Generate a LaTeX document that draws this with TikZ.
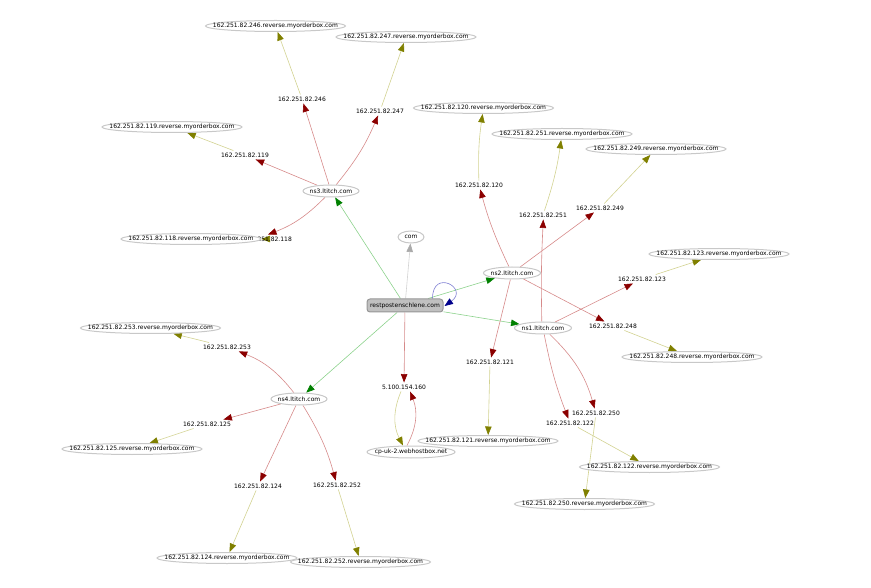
\documentclass[tikz,border=0pt]{standalone}
\usepackage{fontspec}
\setmainfont{DejaVu Sans}
\usetikzlibrary{arrows.meta,shapes.geometric,backgrounds}
\definecolor{redline}{RGB}{214,138,138}
\definecolor{redtip}{RGB}{139,0,0}
\definecolor{oliveline}{RGB}{210,210,145}
\definecolor{olivetip}{RGB}{128,128,0}
\definecolor{greenline}{RGB}{140,210,140}
\definecolor{greentip}{RGB}{0,128,0}
\definecolor{grayline}{RGB}{210,210,210}
\definecolor{graytip}{RGB}{170,170,170}
\definecolor{blueline}{RGB}{125,125,210}
\definecolor{bluetip}{RGB}{0,0,139}
\definecolor{ellborder}{RGB}{200,200,200}
\definecolor{restfill}{RGB}{192,192,192}
\definecolor{restborder}{RGB}{150,150,150}
\newcommand{\zw}[1]{\makebox[0pt]{#1}}
\tikzset{
  every node/.style={font=\fontsize{6}{7}\selectfont},
  host/.style={ellipse, draw=ellborder, line width=1pt, fill=white, inner sep=0pt, minimum height=12pt},
  rev/.style={host, minimum width=140pt, minimum height=11pt},
  restbox/.style={rectangle, rounded corners=3pt, draw=restborder, fill=restfill, line width=1pt, inner sep=0pt, minimum width=76pt, minimum height=13pt},
  ip/.style={inner sep=2pt},
  redE/.style={draw=redline, line width=0.6pt, -{Triangle[length=8.5pt,width=6.5pt,color=redtip]}},
  oliveE/.style={draw=oliveline, line width=0.6pt, -{Triangle[length=8.5pt,width=6.5pt,color=olivetip]}},
  greenE/.style={draw=greenline, line width=0.6pt, -{Triangle[length=8.5pt,width=6.5pt,color=greentip]}},
  grayE/.style={draw=grayline, line width=0.6pt, -{Triangle[length=8.5pt,width=6.5pt,color=graytip]}},
  blueE/.style={draw=blueline, line width=0.6pt, -{Triangle[length=8.5pt,width=6.5pt,color=bluetip]}}
}
\begin{document}
\begin{tikzpicture}[x=1pt,y=1pt]
\useasboundingbox (0,0) rectangle (871,-588);
% IP labels
\node[ip] (i246) at (302,-99) {162.251.82.246};
\node[ip] (i247) at (380,-111) {162.251.82.247};
\node[ip] (i119) at (245,-155) {162.251.82.119};
\node[ip] (i118) at (268,-239) {162.251.82.118};
\node[ip] (i120) at (479,-185) {162.251.82.120};
\node[ip] (i251) at (543,-215) {162.251.82.251};
\node[ip] (i249) at (600,-208) {162.251.82.249};
\node[ip] (i123) at (642,-279) {162.251.82.123};
\node[ip] (i248) at (613,-326) {162.251.82.248};
\node[ip] (i121) at (490,-362) {162.251.82.121};
\node[ip] (i250) at (596,-413) {162.251.82.250};
\node[ip] (i122) at (570,-423) {162.251.82.122};
\node[ip] (i253) at (227,-347) {162.251.82.253};
\node[ip] (i125) at (207,-424) {162.251.82.125};
\node[ip] (i124) at (258,-486) {162.251.82.124};
\node[ip] (i252) at (337,-485) {162.251.82.252};
\node[ip] (i5) at (404,-387) {5.100.154.160};
% hosts
\node[restbox] (rest) at (405,-305.5) {restpostenschlene.com};
\node[host, minimum width=26pt] (com) at (411,-237) {\zw{com}};
\node[host, minimum width=56pt] (ns3) at (331,-191) {\zw{ns3.ltitch.com}};
\node[host, minimum width=57pt] (ns2) at (512,-273) {\zw{ns2.ltitch.com}};
\node[host, minimum width=57pt] (ns1) at (543,-328) {\zw{ns1.ltitch.com}};
\node[host, minimum width=56pt] (ns4) at (299,-399) {\zw{ns4.ltitch.com}};
\node[host, minimum width=88pt] (cp) at (411,-452) {\zw{cp-uk-2.webhostbox.net}};
% reverse names
\node[rev] (r246) at (275.5,-26) {\zw{162.251.82.246.reverse.myorderbox.com}};
\node[rev] (r247) at (406,-37) {\zw{162.251.82.247.reverse.myorderbox.com}};
\node[rev] (r119) at (172,-127) {\zw{162.251.82.119.reverse.myorderbox.com}};
\node[rev] (r118) at (191,-239) {\zw{162.251.82.118.reverse.myorderbox.com}};
\node[rev] (r120) at (483.5,-108) {\zw{162.251.82.120.reverse.myorderbox.com}};
\node[rev] (r251) at (562,-134) {\zw{162.251.82.251.reverse.myorderbox.com}};
\node[rev] (r249) at (656,-149) {\zw{162.251.82.249.reverse.myorderbox.com}};
\node[rev] (r123) at (719,-254) {\zw{162.251.82.123.reverse.myorderbox.com}};
\node[rev] (r248) at (692,-357) {\zw{162.251.82.248.reverse.myorderbox.com}};
\node[rev] (r122) at (649.5,-467) {\zw{162.251.82.122.reverse.myorderbox.com}};
\node[rev] (r250) at (584.5,-504) {\zw{162.251.82.250.reverse.myorderbox.com}};
\node[rev] (r121) at (488,-441) {\zw{162.251.82.121.reverse.myorderbox.com}};
\node[rev] (r253) at (150.5,-328) {\zw{162.251.82.253.reverse.myorderbox.com}};
\node[rev] (r125) at (132,-449) {\zw{162.251.82.125.reverse.myorderbox.com}};
\node[rev] (r124) at (227,-558) {\zw{162.251.82.124.reverse.myorderbox.com}};
\node[rev] (r252) at (360.5,-562) {\zw{162.251.82.252.reverse.myorderbox.com}};
\begin{pgfonlayer}{background}
% root edges
\draw[grayE] (rest) -- (com);
\draw[greenE] (rest) -- (ns3);
\draw[greenE] (rest) -- (ns2);
\draw[greenE] (rest) -- (ns1);
\draw[greenE] (rest) -- (ns4);
\draw[redE] (rest) -- (i5);
\draw[blueE] ([xshift=-11pt]rest.north east) to[out=90,in=35,looseness=5.5] ([xshift=1pt,yshift=-0.5pt]rest.east);
\draw[oliveE] ([xshift=-3pt]i5.south) to[bend right=25] ([xshift=-8pt]cp.north);
\draw[redE] ([xshift=-4pt]cp.north) to[bend right=25] ([xshift=6pt]i5.south);
% ns3
\draw[redE] (ns3) -- (i246);
\draw[redE] (ns3) to[bend right=8] (i247);
\draw[redE] (ns3) -- (i119);
\draw[redE] (ns3) to[bend left=12] (i118.north);
\draw[oliveE] (i246) -- (r246);
\draw[oliveE] (i247) -- (r247);
\draw[oliveE] (i119) -- (r119);
\draw[oliveE] (i118.center) -- (r118.east);
% ns2
\draw[redE] (ns2) to[bend left=5] (i120);
\draw[redE] (ns2) -- (i249);
\draw[redE] (ns2) -- (i121);
\draw[redE] (ns2) -- (i248);
\draw[oliveE] (i120) to[bend left=5] (r120);
\draw[oliveE] (i249) -- (r249);
\draw[oliveE] (i121) -- (r121);
\draw[oliveE] (i248) -- (r248);
% ns1
\draw[redE] ([xshift=-1.2pt]ns1.north) to[bend left=2] ([xshift=0.3pt]i251.south);
\draw[redE] (ns1) -- (i123);
\draw[redE] (ns1) to[bend left=15] (i250);
\draw[redE] (ns1) to[bend right=5] (i122);
\draw[oliveE] (i251) to[bend right=5] (r251);
\draw[oliveE] (i123) -- (r123);
\draw[oliveE] (i250) -- (r250);
\draw[oliveE] (i122) -- (r122);
% ns4
\draw[redE] (ns4) to[bend right=15] (i253);
\draw[redE] (ns4) -- (i125);
\draw[redE] (ns4) -- (i124);
\draw[redE] (ns4) to[bend left=8] (i252);
\draw[oliveE] (i253) -- (r253);
\draw[oliveE] (i125) -- (r125);
\draw[oliveE] (i124) -- (r124);
\draw[oliveE] (i252) -- (r252);
\end{pgfonlayer}
\end{tikzpicture}
\end{document}
